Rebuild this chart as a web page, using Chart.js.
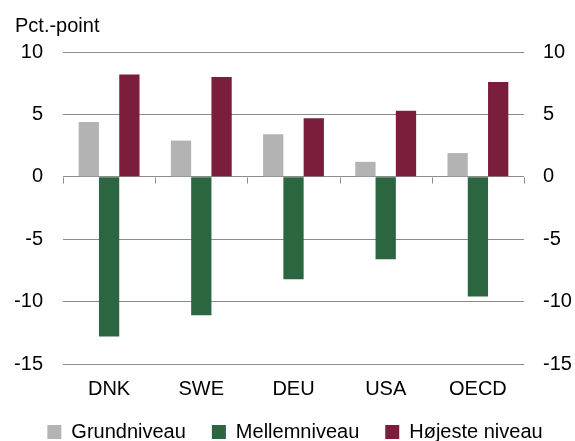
<!DOCTYPE html>
<html>
<head>
<meta charset="utf-8">
<script src="https://cdn.jsdelivr.net/npm/chart.js@4/dist/chart.umd.min.js"></script>
<style>
  html, body { margin: 0; padding: 0; background: #fff; }
  #wrap { width: 575px; height: 441px; }
</style>
</head>
<body>
<div id="wrap"><canvas id="chart"></canvas></div>
<script>
// Data
const countries = ['DNK', 'SWE', 'DEU', 'USA', 'OECD'];
const grundniveau = [4.4, 2.9, 3.4, 1.2, 1.9];
const mellemniveau = [-12.8, -11.1, -8.2, -6.6, -9.6];
const hoejesteNiveau = [8.2, 8.0, 4.7, 5.3, 7.6];
const yTicks = [-15, -10, -5, 0, 5, 10];

const FONT = "'Liberation Sans', Arial, sans-serif";
const gridColor = '#8c8c8c';

// small tick marks under the zero line, between categories
const zeroTicks = {
    id: 'zeroTicks',
    afterLayout(chart) {
        // let the category labels overhang the legend box instead of being clipped
        chart.scales.x.bottom = chart.scales.x.top + 45;
    },
    beforeDatasetsDraw(chart) {
        const x = chart.scales.x;
        const y = chart.scales.y;
        const ctx = chart.ctx;
        const y0 = Math.round(y.getPixelForValue(0)) + 0.5;
        const step = x.getPixelForValue(1) - x.getPixelForValue(0);
        ctx.save();
        ctx.strokeStyle = gridColor;
        ctx.lineWidth = 1;
        ctx.beginPath();
        for (let i = 0; i <= countries.length; i++) {
            const px = Math.round(x.getPixelForValue(0) - step / 2 + i * step) + 0.5;
            ctx.moveTo(px, y0);
            ctx.lineTo(px, y0 + 6);
        }
        ctx.stroke();
        ctx.restore();
    }
};

const yAxis = (position, width) => ({
    position: position,
    min: -15,
    max: 10,
    afterBuildTicks: (axis) => { axis.ticks = yTicks.map(v => ({ value: v })); },
    afterFit: (axis) => { axis.width = width; },
    border: { display: false },
    grid: {
        display: position === 'left',
        color: gridColor,
        lineWidth: 1,
        drawTicks: false
    },
    ticks: {
        color: '#000',
        padding: position === 'left' ? 20 : 19,
        font: { family: FONT, size: 20 }
    }
});

new Chart(document.getElementById('chart'), {
    type: 'bar',
    data: {
        labels: countries,
        datasets: [
            { label: 'Grundniveau', data: grundniveau, backgroundColor: '#b3b3b3' },
            { label: 'Mellemniveau', data: mellemniveau, backgroundColor: '#2b6640' },
            { label: 'Højeste niveau', data: hoejesteNiveau, backgroundColor: '#7a1e3c' }
        ]
    },
    options: {
        responsive: true,
        maintainAspectRatio: false,
        animation: false,
        layout: { padding: { left: 15, right: 0, top: 14, bottom: 0 } },
        datasets: {
            bar: { categoryPercentage: 0.66, barPercentage: 1.0 }
        },
        plugins: {
            title: {
                display: true,
                text: 'Pct.-point',
                align: 'start',
                color: '#000',
                font: { family: FONT, size: 20, weight: 'normal' },
                padding: { top: 0, bottom: 14 }
            },
            legend: {
                position: 'bottom',
                maxHeight: 45,
                labels: {
                    color: '#000',
                    font: { family: FONT, size: 20 },
                    boxWidth: 14,
                    boxHeight: 14,
                    padding: 26
                }
            },
            tooltip: { enabled: false }
        },
        scales: {
            x: {
                afterFit: (axis) => { axis.height = 32; },
                border: { display: false },
                grid: { display: false },
                ticks: {
                    color: '#000',
                    padding: 5,
                    font: { family: FONT, size: 20 }
                }
            },
            y: yAxis('left', 48),
            y2: yAxis('right', 51)
        }
    },
    plugins: [zeroTicks]
});
</script>
</body>
</html>
